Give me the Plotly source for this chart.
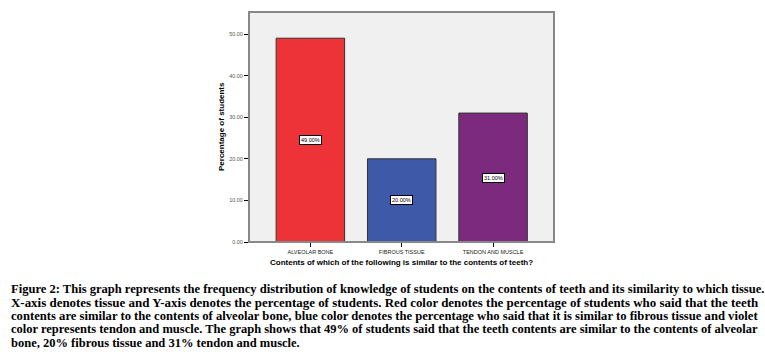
import plotly.graph_objects as go

categories = ["ALVEOLAR BONE", "FIBROUS TISSUE", "TENDON AND MUSCLE"]
values = [49.0, 20.0, 31.0]
colors = ["#EE3338", "#3E59A8", "#7B2A7E"]
ytick_vals = [0, 10, 20, 30, 40, 50]
ytick_text = ["0.00", "10.00", "20.00", "30.00", "40.00", "50.00"]
caption_lines = [
    "Figure 2: This graph represents the frequency distribution of knowledge of students on the contents of teeth and its similarity to which tissue.",
    "X-axis denotes tissue and Y-axis denotes the percentage of students. Red color denotes the percentage of students who said that the teeth",
    "contents are similar to the contents of alveolar bone, blue color denotes the percentage who said that it is similar to fibrous tissue and violet",
    "color represents tendon and muscle. The graph shows that 49% of students said that the teeth contents are similar to the contents of alveolar",
    "bone, 20% fibrous tissue and 31% tendon and muscle.",
]
caption_sizes = [12.55, 12.95, 12.65, 12.5, 12.5]

W, H = 765, 362
L, R, T, B = 249, 554, 12, 242


def px(xp):
    return (xp - L) / (R - L)


def py(yp):
    return (B - yp) / (B - T)


fig = go.Figure()
fig.add_trace(go.Bar(
    x=categories, y=values, width=0.75,
    marker=dict(color=colors, line=dict(color="#333333", width=1)),
    hoverinfo="skip",
))

annotations = []
for c, v in zip(categories, values):
    annotations.append(dict(
        x=c, y=v / 2, xref="x", yref="y", text=f"{v:.2f}%", showarrow=False,
        font=dict(family="Liberation Sans", size=5.5, color="#000"),
        bgcolor="white", bordercolor="#000", borderwidth=1, borderpad=1,
    ))

annotations.append(dict(
    x=px(401), y=py(262), xref="paper", yref="paper",
    text="<b>Contents of which of the following is similar to the contents of teeth?</b>",
    showarrow=False, font=dict(family="Liberation Sans", size=8, color="#000"),
    xanchor="center", yanchor="middle",
))
annotations.append(dict(
    x=px(221), y=py(127), xref="paper", yref="paper",
    text="<b>Percentage of students</b>", textangle=-90,
    showarrow=False, font=dict(family="Liberation Sans", size=8, color="#000"),
    xanchor="center", yanchor="middle",
))

for i, (ln, fs) in enumerate(zip(caption_lines, caption_sizes)):
    yy = 289 + 13.4 * i
    annotations.append(dict(
        x=px(9), y=py(yy), xref="paper", yref="paper",
        text=f"<b>{ln}</b>", showarrow=False,
        font=dict(family="Liberation Serif", size=fs, color="#000"),
        xanchor="left", yanchor="middle", align="left",
    ))

fig.update_layout(
    width=W, height=H,
    margin=dict(l=L, r=W - R, t=T, b=H - B, pad=0, autoexpand=False),
    paper_bgcolor="white", plot_bgcolor="#F0F0F0",
    showlegend=False, bargap=0.25,
    annotations=annotations,
    xaxis=dict(
        type="category", range=[-0.672, 2.667], showgrid=False,
        showline=True, linecolor="#000", linewidth=1,
        ticks="outside", ticklen=4, tickcolor="#000",
        tickfont=dict(family="Liberation Sans", size=5.5, color="#222"),
        fixedrange=True, automargin=False,
    ),
    yaxis=dict(
        range=[0, 55.3], tickvals=ytick_vals, ticktext=ytick_text,
        showgrid=False, zeroline=False,
        showline=True, linecolor="#000", linewidth=1,
        ticks="outside", ticklen=4, tickcolor="#000",
        tickfont=dict(family="Liberation Sans", size=5.5, color="#555"),
        fixedrange=True, automargin=False,
    ),
    shapes=[dict(type="rect", xref="paper", yref="paper", x0=0, x1=1, y0=0, y1=1,
                 line=dict(color="#888888", width=2), layer="above")],
)
fig.write_html("out.html", config={"displayModeBar": False},
               post_script="document.body.style.margin='0';")
